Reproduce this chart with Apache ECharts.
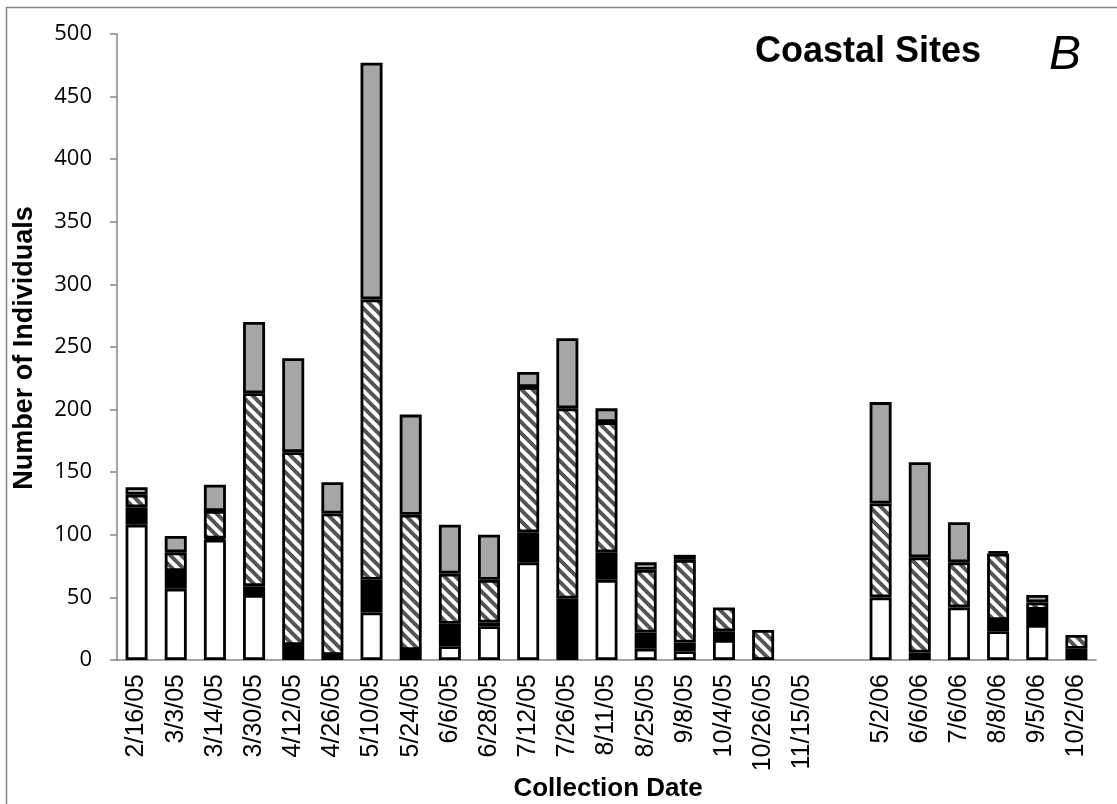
<!DOCTYPE html>
<html><head><meta charset="utf-8">
<script src="https://cdn.jsdelivr.net/npm/echarts@6/dist/echarts.min.js"></script>
<style>html,body{margin:0;padding:0;background:#fff}#c{width:1117px;height:804px}</style>
</head><body><div id="c"></div>
<script>
const categories = ['2/16/05','3/3/05','3/14/05','3/30/05','4/12/05','4/26/05','5/10/05','5/24/05','6/6/05','6/28/05','7/12/05','7/26/05','8/11/05','8/25/05','9/8/05','10/4/05','10/26/05','11/15/05','','5/2/06','6/6/06','7/6/06','8/8/06','9/5/06','10/2/06'];
const whiteVals  = [108,57,96,52,4,0,38,0,11,27,78,0,64,9,7,16,0,0,null,50,0,42,23,28,0];
const blackVals  = [14,14,1,7,8,4,26,8,18,3,24,49,22,13,7,7,0,0,null,0,6,0,9,12,9];
const hatchVals  = [10,15,22,154,154,113,224,108,40,34,116,152,104,50,66,19,24,0,null,75,76,36,53,6,11];
const grayVals   = [6,13,21,57,75,25,189,80,39,36,12,56,11,6,4,0,0,0,null,81,76,32,2,6,0];
const yTicks = {min:0, max:500, interval:50};

function hatchPattern(){
  const s = 11;
  const c = document.createElement('canvas');
  c.width = s; c.height = s;
  const g = c.getContext('2d');
  g.fillStyle = '#fff'; g.fillRect(0,0,s,s);
  g.strokeStyle = '#555555'; g.lineWidth = 4;
  g.beginPath();
  for (let k=-1;k<=1;k++){ g.moveTo(k*s-2,-2); g.lineTo(k*s+s+2,s+2); }
  g.stroke();
  return c;
}
const nz = arr => arr.map(v => (v === 0 ? null : v));

const chart = echarts.init(document.getElementById('c'), null, {renderer:'canvas'});
const BW = 2.8;
const barBase = {type:'bar', stack:'total', barWidth:22};
const axisGray = '#868686';
chart.setOption({
  animation:false,
  backgroundColor:'#fff',
  grid:{left:117, right:21, top:34, bottom:144},
  xAxis:{type:'category', data:categories,
    axisLine:{lineStyle:{color:axisGray, width:1.5}},
    axisTick:{length:7, lineStyle:{color:axisGray, width:1.5}},
    axisLabel:{rotate:90, margin:14, fontFamily:'Liberation Sans, Arial', fontSize:25, color:'#000', interval:0}
  },
  yAxis:{type:'value', min:yTicks.min, max:yTicks.max, interval:yTicks.interval,
    splitLine:{show:false},
    axisLine:{show:true, lineStyle:{color:axisGray, width:1.5}},
    axisTick:{show:true, length:7, lineStyle:{color:axisGray, width:1.5}},
    axisLabel:{margin:25, fontFamily:'Open Sans', fontSize:22, color:'#000'}
  },
  graphic:[
    {type:'rect', shape:{x:6.5, y:7.5, width:1130, height:820}, style:{fill:null, stroke:'#898989', lineWidth:1.5}, silent:true},
    {type:'text', x:755, y:52, style:{text:'Coastal Sites', font:'bold 36px "Liberation Sans", Arial', fill:'#000', verticalAlign:'middle'}},
    {type:'text', x:1049, y:56, style:{text:'B', font:'italic 48px "Liberation Sans", Arial', fill:'#000', verticalAlign:'middle'}},
    {type:'text', x:25, y:348, rotation:Math.PI/2, style:{text:'Number of Individuals', font:'bold 27px "Liberation Sans", Arial', fill:'#000', align:'center', verticalAlign:'middle'}},
    {type:'text', x:608, y:789, style:{text:'Collection Date', font:'bold 26px "Liberation Sans", Arial', fill:'#000', align:'center', verticalAlign:'middle'}}
  ],
  series:[
    Object.assign({}, barBase, {name:'White', data:nz(whiteVals), itemStyle:{color:'#fff', borderColor:'#000', borderWidth:BW}}),
    Object.assign({}, barBase, {name:'Black', data:nz(blackVals), itemStyle:{color:'#000', borderColor:'#000', borderWidth:BW}}),
    Object.assign({}, barBase, {name:'Hatched', data:nz(hatchVals), itemStyle:{color:{image:hatchPattern(), repeat:'repeat'}, borderColor:'#000', borderWidth:BW}}),
    Object.assign({}, barBase, {name:'Gray', data:nz(grayVals), itemStyle:{color:'#a6a6a6', borderColor:'#000', borderWidth:BW}})
  ]
});
</script></body></html>
